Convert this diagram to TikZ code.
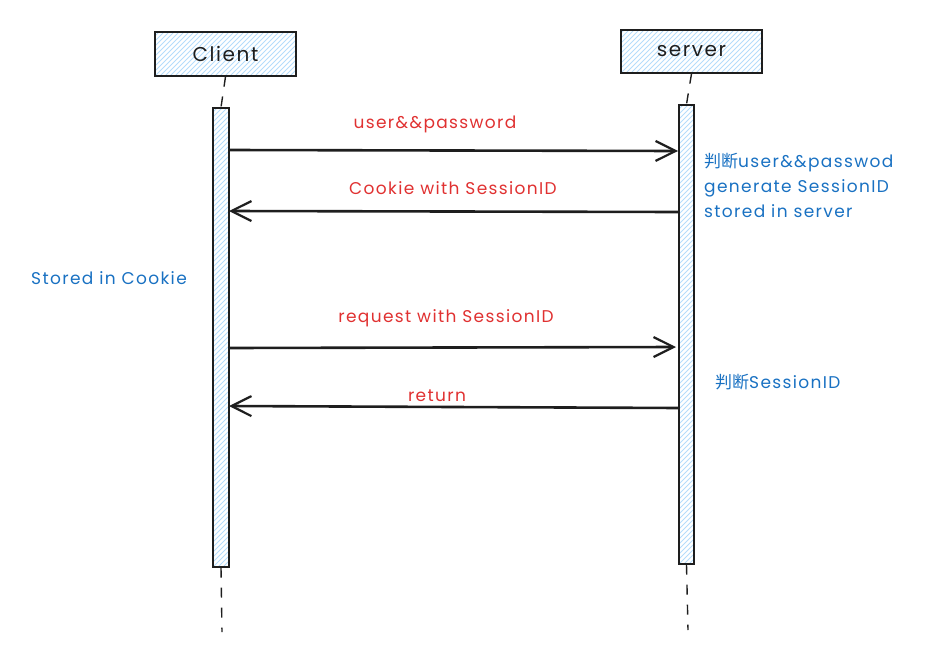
\documentclass[tikz,border=0pt]{standalone}
\usepackage{fontspec}
\setmainfont{Poppins}[LetterSpace=8]
\newfontfamily\cjk{Noto Sans CJK SC}
\usetikzlibrary{arrows.meta}
\definecolor{hatchblue}{HTML}{B4DCFB}
\definecolor{msgred}{HTML}{E03131}
\definecolor{noteblue}{HTML}{1971C2}
\definecolor{ink}{HTML}{1E1E1E}
\begin{document}
\begin{tikzpicture}[x=1pt,y=-1pt,
  hatched/.style={draw=ink, line width=1.4pt, rectangle, inner sep=0pt,
    path picture={
      \foreach \k in {-480,-475,...,160}
        \draw[hatchblue, line width=0.9pt]
          ([xshift=\k pt]path picture bounding box.south west) -- ++(520pt,520pt);
    }},
  actor/.style={hatched, font=\fontsize{20}{22}\selectfont\color{ink}},
  lifeline/.style={draw=ink, line width=1.4pt, dash pattern=on 10pt off 10pt},
  msg/.style={draw=ink, line width=2.6pt,
    -{Straight Barb[length=20pt,width=20pt,line width=2.2pt]}},
  msglabel/.style={text=msgred, font=\fontsize{17}{18}\selectfont, inner sep=0pt},
  note/.style={text=noteblue, font=\fontsize{17}{25}\selectfont, inner sep=0pt, align=left}]
\useasboundingbox (0,0) rectangle (945,656);

% participants
\node[actor, minimum width=141pt, minimum height=44pt] (client) at (225.5,54) {Client};
\node[actor, minimum width=141pt, minimum height=43pt] (server) at (691.5,51.5) {server};

% activation bars
\node[hatched, minimum width=16pt, minimum height=459pt] (cbar) at (221,337.5) {};
\node[hatched, minimum width=15pt, minimum height=459pt] (sbar) at (686.5,334.5) {};

% lifeline ends below the bars
\coordinate (cend) at (222,632);
\coordinate (send) at (688,630);

\draw[lifeline] (client.south) -- (cbar.north);
\draw[lifeline] (server.south) -- (sbar.north);
\draw[lifeline] (cbar.south) -- (cend);
\draw[lifeline] (sbar.south) -- (send);

% messages
\coordinate (m1a) at (229,150); \coordinate (m1b) at (678,151);
\coordinate (m2a) at (679,212); \coordinate (m2b) at (229,211);
\coordinate (m3a) at (229,348); \coordinate (m3b) at (676,347);
\coordinate (m4a) at (679,408); \coordinate (m4b) at (229,406);
\draw[msg] (m1a) -- (m1b);
\draw[msg] (m2a) -- (m2b);
\draw[msg] (m3a) -- (m3b);
\draw[msg] (m4a) -- (m4b);

\node[msglabel] (l1) at (435,124) {user\&\&password};
\node[msglabel] (l2) at (453,188) {Cookie with SessionID};
\node[msglabel] (l3) at (446,318) {request with SessionID};
\node[msglabel] (l4) at (437,396) {return};

% notes
\node[note, anchor=west] (n1) at (704,185.5) {{\cjk 判断}user\&\&passwod\\generate SessionID\\stored in server};
\node[note, anchor=west] (n2) at (31,278) {Stored in Cookie};
\node[note, anchor=west] (n3) at (715,382) {{\cjk 判断}SessionID};
\end{tikzpicture}
\end{document}
